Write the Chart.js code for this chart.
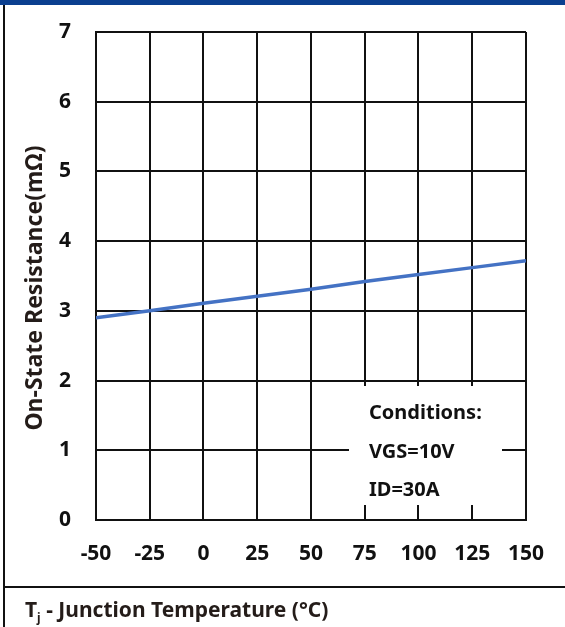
<!DOCTYPE html>
<html>
<head>
<meta charset="utf-8">
<script src="https://cdn.jsdelivr.net/npm/chart.js@4"></script>
<style>
  html, body { margin: 0; padding: 0; background: #fff; }
  #wrap { width: 565px; height: 627px; position: relative; }
</style>
</head>
<body>
<div id="wrap"><canvas id="rdsChart" width="565" height="627"></canvas></div>
<script>
// Data
const temps = [-50, -25, 0, 25, 50, 75, 100, 125, 150];
const resistance = [2.9, 3.0, 3.11, 3.21, 3.31, 3.42, 3.52, 3.62, 3.72];
const xTicks = [-50, -25, 0, 25, 50, 75, 100, 125, 150];
const yTicks = [0, 1, 2, 3, 4, 5, 6, 7];
const yTitle = "On-State Resistance(mΩ)";
const conditions = ["Conditions:", "VGS=10V", "ID=30A"];

const FONT = "'Noto Sans', sans-serif";

// frame, blue band, separator, axis titles and the conditions box
const decorations = {
  id: "decorations",
  beforeDraw(chart) {
    const c = chart.ctx;
    c.save();
    c.fillStyle = "#fff";
    c.fillRect(0, 0, chart.width, chart.height);
    c.restore();
  },
  afterDraw(chart) {
    const c = chart.ctx;
    c.save();
    // top band
    c.fillStyle = "#0b3f8f";
    c.fillRect(0, 0, chart.width, 5);
    // left border
    c.fillStyle = "#111";
    c.fillRect(3, 5, 2, chart.height - 5);
    // separator above x title
    c.fillRect(4, 586, chart.width - 4, 2);

    // y axis title (sits a bit below the plot centre in the original)
    c.fillStyle = "#241c19";
    c.save();
    c.translate(35, 288);
    c.rotate(-Math.PI / 2);
    c.font = "bold 23px " + FONT;
    c.textAlign = "center";
    c.textBaseline = "middle";
    c.fillText(yTitle, 0, 0);
    c.restore();

    // x axis title with subscript
    c.textBaseline = "alphabetic";
    c.font = "bold 21px " + FONT;
    c.fillText("T", 25, 617);
    let w = c.measureText("T").width;
    c.font = "bold 12px " + FONT;
    c.fillText("j", 25 + w, 622);
    let w2 = c.measureText("j").width;
    c.font = "bold 21px " + FONT;
    c.fillText(" - Junction Temperature (°C)", 25 + w + w2, 617);

    // conditions box
    c.fillStyle = "#fff";
    c.fillRect(349, 386, 153, 119);
    c.fillStyle = "#111";
    c.font = "bold 20px " + FONT;
    c.textBaseline = "middle";
    c.fillText(conditions[0], 369, 413);
    c.fillText(conditions[1], 369, 452);
    c.fillText(conditions[2], 369, 490);
    c.restore();
  }
};

new Chart(document.getElementById("rdsChart").getContext("2d"), {
  type: "line",
  data: {
    labels: temps,
    datasets: [
      {
        data: temps.map((t, i) => ({ x: t, y: resistance[i] })),
        borderColor: "#4472c4",
        borderWidth: 3.5,
        pointRadius: 0,
        fill: false,
        tension: 0,
      },
    ],
  },
  options: {
    responsive: false,
    animation: false,
    layout: {
      padding: { left: 0, right: 38, top: 32, bottom: 40 },
    },
    plugins: {
      legend: { display: false },
      tooltip: { enabled: false },
    },
    scales: {
      x: {
        type: "linear",
        min: -50,
        max: 150,
        afterBuildTicks: (s) => { s.ticks = xTicks.map((v) => ({ value: v })); },
        afterFit: (s) => { s.height = 67; },
        grid: { color: "#111", lineWidth: 2, drawTicks: false },
        border: { color: "#111", width: 2 },
        ticks: {
          padding: 21,
          color: "#111",
          font: { family: FONT, size: 21, weight: "bold" },
        },
      },
      y: {
        min: 0,
        max: 7,
        afterBuildTicks: (s) => { s.ticks = yTicks.map((v) => ({ value: v })); },
        afterFit: (s) => {
          s.width = 96;
          s.paddingTop = 0;
          s.paddingBottom = 0;
        },
        grid: { color: "#111", lineWidth: 2, drawTicks: false },
        border: { color: "#111", width: 2 },
        ticks: {
          padding: 25,
          color: "#111",
          font: { family: FONT, size: 21, weight: "bold" },
        },
      },
    },
  },
  plugins: [decorations],
});
</script>
</body>
</html>
